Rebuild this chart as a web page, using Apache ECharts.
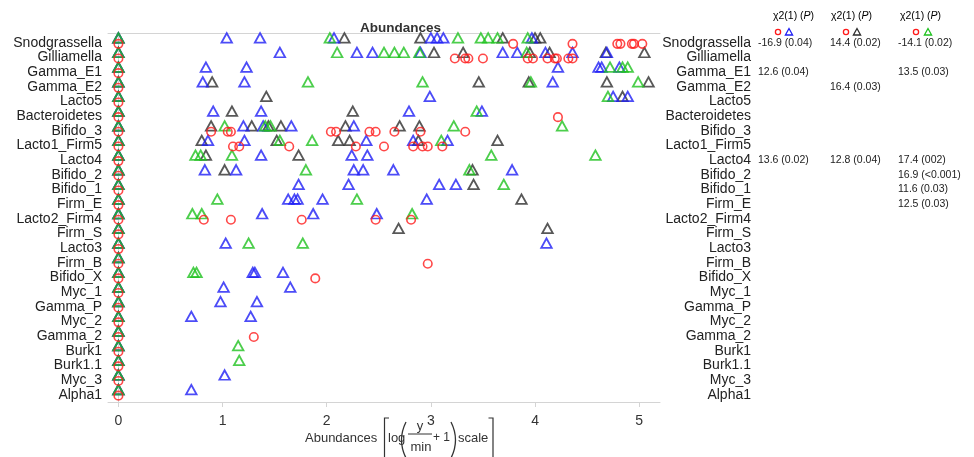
<!DOCTYPE html>
<html>
<head>
<meta charset="utf-8">
<script src="https://cdn.jsdelivr.net/npm/echarts@6/dist/echarts.min.js"></script>
<style>html,body{margin:0;padding:0;background:#fff}#c{width:974px;height:457px}</style>
</head>
<body>
<div id="c"></div>
<script>
const categories = ['Snodgrassella','Gilliamella','Gamma_E1','Gamma_E2','Lacto5','Bacteroidetes','Bifido_3','Lacto1_Firm5','Lacto4','Bifido_2','Bifido_1','Firm_E','Lacto2_Firm4','Firm_S','Lacto3','Firm_B','Bifido_X','Myc_1','Gamma_P','Myc_2','Gamma_2','Burk1','Burk1.1','Myc_3','Alpha1'];
const xTicks = [0,1,2,3,4,5];

const blueValues = [
 [0,1.04,1.36,2.07,3.00,3.06,3.12,3.97],
 [0,1.55,2.29,2.44,2.90,3.69,3.83,4.10,4.36,4.69],
 [0,0.84,1.23,4.22,4.61,4.64,4.81],
 [0,0.81,1.21,4.17],
 [0,2.99,4.75,4.89],
 [0,0.91,1.37,2.79,3.49],
 [0,1.20,1.39,1.66,2.26],
 [0,0.86,1.21,2.38,2.83,3.16],
 [0,1.37,2.24,2.39],
 [0,0.83,1.13,2.26,2.35,2.64,3.78],
 [0,1.73,2.21,3.08,3.24],
 [0,1.63,1.69,1.72,1.96,2.96],
 [0,1.38,1.87,2.48],
 [0],
 [0,1.03,4.11],
 [0],
 [0,1.29,1.31,1.58],
 [0,1.01,1.65],
 [0,0.98,1.33],
 [0,0.70,1.27],
 [0],
 [0],
 [0],
 [0,1.02],
 [0,0.70]
];
const blackValues = [
 [0,2.17,2.90,3.69,4.00,4.05],
 [0,3.03,3.31,3.95,4.14,4.68,5.05],
 [0],
 [0,0.90,3.46,3.94,4.69,5.09],
 [0,1.42,4.84],
 [0,1.09,2.25],
 [0,0.89,1.28,1.44,1.56,2.18,2.70,2.89],
 [0,0.80,1.52,2.11,2.22,2.88,3.64],
 [0,0.84,1.73],
 [0,1.02,3.40],
 [0,3.41],
 [0,3.87],
 [0],
 [0,2.69,4.12],
 [0],[0],[0],[0],[0],[0],[0],[0],[0],[0],[0]
];
const greenValues = [
 [0,2.03,3.26,3.48,3.55,3.64,3.93],
 [0,2.10,2.55,2.65,2.74,2.89,3.92],
 [0,4.72,4.84,4.89],
 [0,1.82,2.92,3.96,4.99],
 [0,4.70],
 [0,3.44],
 [0,1.02,1.41,1.46,3.22,4.26],
 [0,1.55,1.86,3.10],
 [0,0.74,0.79,1.09,3.58,4.58],
 [0,1.80,3.37],
 [0,3.70],
 [0,0.95,2.29],
 [0,0.71,0.80,2.82],
 [0],
 [0,1.25,1.77],
 [0],
 [0,0.72,0.75],
 [0],[0],[0],[0],
 [0,1.15],
 [0,1.16],
 [0],[0]
];
const redValues = [
 [0,3.79,4.36,4.79,4.82,4.93,4.95,5.03],
 [0,3.23,3.33,3.36,3.50,3.93,3.98,4.12,4.19,4.21,4.32,4.36],
 [0],[0],[0],
 [0,4.22],
 [0,0.89,1.05,1.08,2.04,2.09,2.41,2.47,2.65,2.90,3.33],
 [0,1.10,1.16,1.64,2.28,2.55,2.83,2.92,2.97,3.11],
 [0],[0],[0],[0],
 [0,0.82,1.08,1.76,2.47,2.81],
 [0],[0],
 [0,2.97],
 [0,1.89],
 [0],[0],[0],
 [0,1.30],
 [0],[0],[0],[0]
];

const chiBlue = {Snodgrassella:'-16.9 (0.04)', Gamma_E1:'12.6 (0.04)', Lacto4:'13.6 (0.02)'};
const chiBlack = {Snodgrassella:'14.4 (0.02)', Gamma_E2:'16.4 (0.03)', Lacto4:'12.8 (0.04)'};
const chiGreen = {Snodgrassella:'-14.1 (0.02)', Gamma_E1:'13.5 (0.03)', Lacto4:'17.4 (002)', Bifido_2:'16.9 (<0.001)', Bifido_1:'11.6 (0.03)', Firm_E:'12.5 (0.03)'};

const FONT = 'Liberation Sans, Arial, sans-serif';
const COL = {blue:'#1f1ff5', black:'#2e2e2e', green:'#1fc21f', red:'#ff1a1a'};

function toData(rows){
  const out = [];
  rows.forEach((vals, i) => vals.forEach(v => out.push([v, categories[i]])));
  return out;
}
function tri(name, rows, color){
  return {name, type:'scatter', data:toData(rows), symbol:'triangle', symbolSize:[10.5,9.5], symbolOffset:[0,-5],
    itemStyle:{color:'rgba(0,0,0,0)', borderColor:color, borderWidth:1.8}, emphasis:{disabled:true}, silent:true};
}
function catAxis(extra){
  return Object.assign({type:'category', data:categories, inverse:true, axisLine:{show:false}, axisTick:{show:false}, splitLine:{show:false}}, extra);
}
function statAxis(obj, offset){
  return catAxis({position:'right', offset:offset, axisLabel:{interval:0, margin:0, align:'left', fontFamily:FONT, fontSize:10.5, color:'#222',
    formatter:(v)=> obj[v] || ''}});
}

const chart = echarts.init(document.getElementById('c'), null, {renderer:'canvas'});
const hdrRich = {a:{fontFamily:FONT, fontSize:10.5, color:'#222'}, b:{fontFamily:FONT, fontSize:10.5, color:'#222', fontStyle:'italic'}};
function header(cx){
  return {type:'text', left:cx-17, top:11, style:{text:'{a|χ2(1) (}{b|P}{a|)}', rich:hdrRich}};
}
function keyCircle(cx){ return {type:'circle', shape:{cx:cx, cy:32, r:2.6}, style:{fill:'none', stroke:COL.red, lineWidth:1.3}}; }
function keyTri(cx, color){ return {type:'polygon', shape:{points:[[cx,28.5],[cx-3.6,35],[cx+3.6,35]]}, style:{fill:'none', stroke:color, lineWidth:1.3}}; }
const T = (text, x, y, size, align) => ({type:'text', x:x, y:y, style:{text:text, fontFamily:FONT, fontSize:size, fill:'#333', align:align||'left', verticalAlign:'middle'}});

chart.setOption({
  animation:false,
  title:{text:'Abundances', left:360, top:21, padding:0, textStyle:{fontFamily:FONT, fontSize:13.5, fontWeight:'bold', color:'#333'}},
  grid:{left:108, right:314, top:35.5, bottom:55, containLabel:false},
  xAxis:[
    {type:'value', min:-0.1, max:5.2, splitLine:{show:false},
     axisLine:{show:true, lineStyle:{color:'#d4d4d4', width:1}},
     axisTick:{show:true, length:5, lineStyle:{color:'#d4d4d4'}, customValues:xTicks},
     axisLabel:{fontFamily:FONT, fontSize:14, color:'#333', margin:12, customValues:xTicks}},
    {type:'value', position:'top', offset:2.5, min:-0.1, max:5.2, splitLine:{show:false},
     axisLine:{show:true, lineStyle:{color:'#d4d4d4', width:1}}, axisTick:{show:false}, axisLabel:{show:false}}
  ],
  yAxis:[
    catAxis({position:'left', axisLine:{show:true, lineStyle:{color:'#d4d4d4'}},
      axisTick:{show:true, alignWithLabel:true, length:5, lineStyle:{color:'#d4d4d4'}},
      axisLabel:{interval:0, margin:6, fontFamily:FONT, fontSize:14, color:'#222'}}),
    catAxis({position:'right', axisLabel:{interval:0, margin:91, align:'right', fontFamily:FONT, fontSize:14, color:'#222'}}),
    statAxis(chiBlue, 98),
    statAxis(chiBlack, 170),
    statAxis(chiGreen, 238)
  ],
  series:[
    tri('black', blackValues, COL.black),
    tri('blue', blueValues, COL.blue),
    tri('green', greenValues, COL.green),
    {name:'red', type:'scatter', data:toData(redValues), symbol:'circle', symbolSize:8.5, symbolOffset:[0,1],
     itemStyle:{color:'rgba(0,0,0,0)', borderColor:COL.red, borderWidth:1.6}, emphasis:{disabled:true}, silent:true}
  ],
  graphic:[
    header(790), header(848), header(917),
    keyCircle(778), keyTri(789, COL.blue),
    keyCircle(846), keyTri(857, COL.black),
    keyCircle(916), keyTri(928, COL.green),
    T('Abundances', 305, 438, 13),
    {type:'polyline', shape:{points:[[389,418],[384.5,418],[384.5,462]]}, style:{stroke:'#333', lineWidth:1.2, fill:'none'}},
    T('log', 388, 438, 13),
    {type:'bezierCurve', shape:{x1:406, y1:422, cpx1:397, cpy1:440, x2:406, y2:458}, style:{stroke:'#333', lineWidth:1.3, fill:'none'}},
    T('y', 420, 426, 13, 'center'),
    {type:'line', shape:{x1:408, y1:434, x2:432, y2:434}, style:{stroke:'#333', lineWidth:1}},
    T('min', 421, 447, 13, 'center'),
    T('+ 1', 433, 438, 12),
    {type:'bezierCurve', shape:{x1:451, y1:422, cpx1:460, cpy1:440, x2:451, y2:458}, style:{stroke:'#333', lineWidth:1.3, fill:'none'}},
    T('scale', 458, 438, 13),
    {type:'polyline', shape:{points:[[488.5,418],[493,418],[493,462]]}, style:{stroke:'#333', lineWidth:1.2, fill:'none'}}
  ]
});
</script>
</body>
</html>
